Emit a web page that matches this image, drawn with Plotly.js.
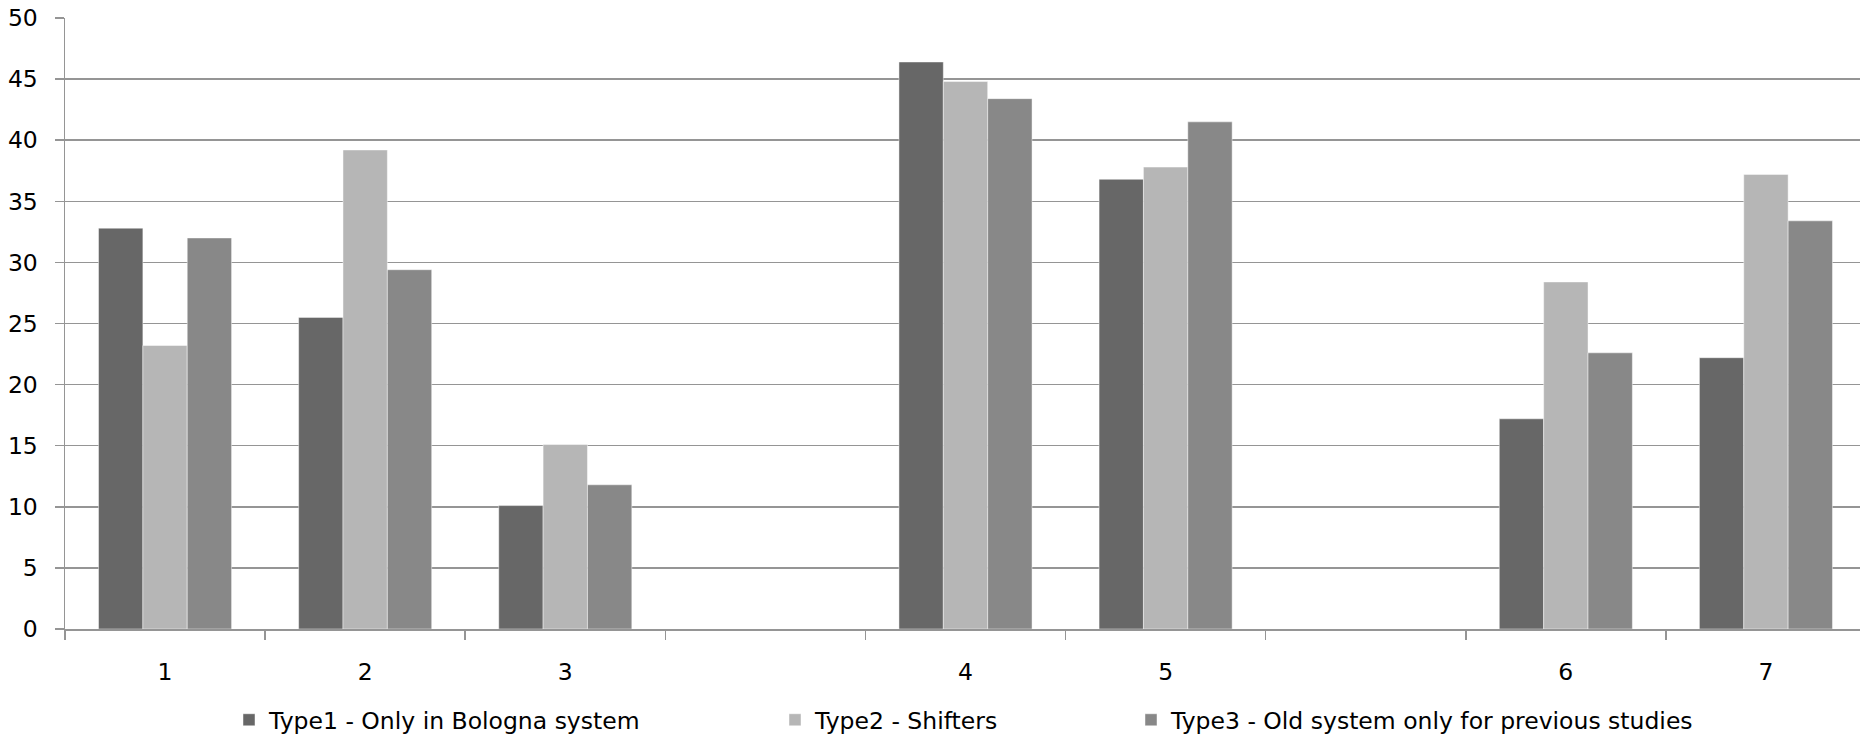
<!DOCTYPE html>
<html>
<head>
<meta charset="utf-8">
<script src="https://cdn.plot.ly/plotly-3.0.1.min.js"></script>
<style>
  html, body { margin: 0; padding: 0; background: #ffffff; }
  #chart { width: 1860px; height: 735px; }
</style>
</head>
<body>
<div id="chart"></div>
<script>
// Category slots along the x axis; the blank slots are empty gaps between groups
const slots = ["1", "2", "3", " ", "4", "5", "  ", "6", "7"];
const groups = ["1", "2", "3", "4", "5", "6", "7"];

const seriesNames = [
  "Type1 - Only in Bologna system",
  "Type2 - Shifters",
  "Type3 - Old system only for previous studies"
];

const type1 = [32.8, 25.5, 10.1, 46.4, 36.8, 17.2, 22.2];
const type2 = [23.2, 39.2, 15.1, 44.8, 37.8, 28.4, 37.2];
const type3 = [32.0, 29.4, 11.8, 43.4, 41.5, 22.6, 33.4];

const yTicks = [0, 5, 10, 15, 20, 25, 30, 35, 40, 45, 50];

const colors = ["#676767", "#b6b6b6", "#888888"];
const gridColor = "#959595";
const fontFamily = "'DejaVu Sans', 'Liberation Sans', Arial, sans-serif";
const fontSize = 23.5;

const W = 1860, H = 735;
const margin = { l: 65, r: 0, t: 18, b: 106, pad: 0 };

// Legend entries sit in one row under the axis; each one gets its own legend box,
// placed in container coordinates so it does not push the plot margins
const legendLeftPx = [229, 775, 1131];
const legendCenterPx = 720;

const series = [type1, type2, type3];
const legendIds = ["legend", "legend2", "legend3"];

const traces = series.map((vals, i) => ({
  type: "bar",
  name: seriesNames[i],
  x: groups,
  y: vals,
  legend: legendIds[i],
  marker: {
    color: colors[i],
    line: { color: "rgba(255,255,255,0.45)", width: 1 }
  },
  hoverinfo: "x+y+name"
}));

function legendBox(i) {
  return {
    orientation: "h",
    xref: "container",
    yref: "container",
    x: legendLeftPx[i] / W,
    xanchor: "left",
    y: (H - legendCenterPx) / H,
    yanchor: "middle",
    bgcolor: "rgba(0,0,0,0)",
    borderwidth: 0,
    font: { family: fontFamily, size: fontSize, color: "#000000" },
    traceorder: "normal"
  };
}

const layout = {
  width: W,
  height: H,
  margin: margin,
  paper_bgcolor: "#ffffff",
  plot_bgcolor: "#ffffff",
  font: { family: fontFamily, size: fontSize, color: "#000000" },
  barmode: "group",
  bargap: 0.335,
  bargroupgap: 0,
  showlegend: true,
  legend: legendBox(0),
  legend2: legendBox(1),
  legend3: legendBox(2),
  xaxis: {
    type: "category",
    categoryorder: "array",
    categoryarray: slots,
    range: [-0.5, 8.47],
    tickson: "boundaries",
    ticks: "outside",
    ticklen: 9,
    tickwidth: 1.5,
    tickcolor: gridColor,
    showgrid: false,
    showline: true,
    linecolor: gridColor,
    linewidth: 1.5,
    zeroline: false,
    ticklabelstandoff: 21,
    tickfont: { family: fontFamily, size: fontSize, color: "#000000" },
    automargin: false,
    fixedrange: true
  },
  yaxis: {
    range: [0, 50],
    tickvals: yTicks,
    ticktext: yTicks.map(String),
    ticks: "outside",
    ticklen: 9,
    tickwidth: 1.5,
    tickcolor: gridColor,
    showgrid: true,
    gridcolor: gridColor,
    gridwidth: 1.5,
    showline: true,
    linecolor: gridColor,
    linewidth: 1.5,
    zeroline: false,
    ticklabelstandoff: 12,
    tickfont: { family: fontFamily, size: fontSize, color: "#000000" },
    automargin: false,
    fixedrange: true
  }
};

Plotly.newPlot("chart", traces, layout, { displayModeBar: false, staticPlot: true });
</script>
</body>
</html>
